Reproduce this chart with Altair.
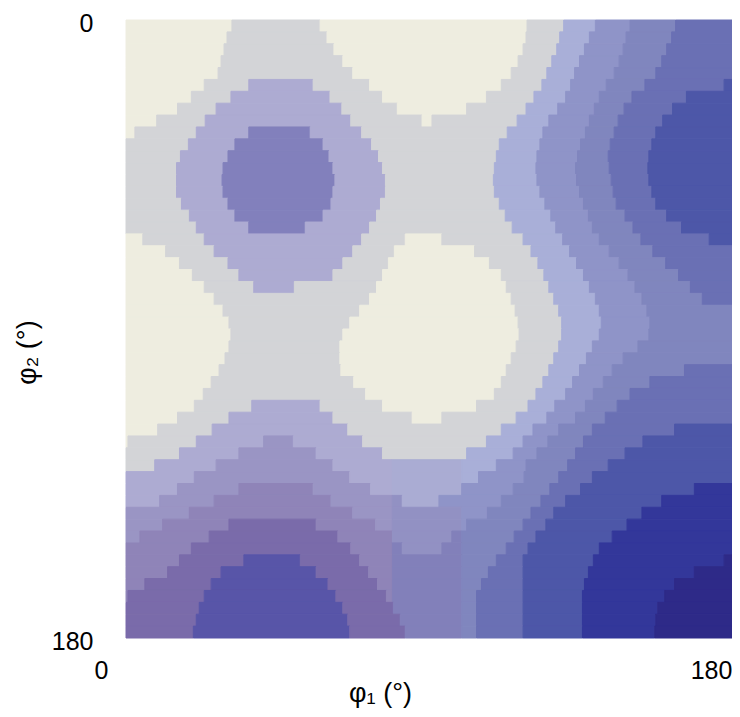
import altair as alt
import pandas as pd

# Scan of the map: each row lists shade + the column where that shade ends.
COL_START = 126
COLS = 612
PHI_MAX = 180

ROWS = [
"a233 b322 a531 b568 c600 d635 e681 f738",
"a228 b329 a530 b564 c594 d631 e677 f738",
"a225 b336 a527 b561 c589 d628 e672 f738",
"a222 b345 a522 b556 c584 d624 e667 f738",
"a219 b355 a515 b551 c579 d619 e661 f738",
"a205 b250 C315 b372 a505 b546 c575 d611 e650 f730 g738",
"a192 b232 C332 b385 a490 b538 c570 d604 e637 f692 g738",
"a178 b217 C344 b400 a470 b530 c562 d599 e629 f678 g738",
"a157 b206 C353 b425 a435 b521 c553 d594 e623 f668 g738",
"a135 b197 C250 h312 C364 b511 c547 d590 e619 f661 g738",
"b189 C236 h325 C374 b503 c544 d585 e615 f657 g738",
"b181 C229 h331 C381 b500 c541 d582 e613 f654 g738",
"b177 C224 h335 C385 b498 c540 d580 e614 f653 g738",
"b177 C223 h337 C388 b497 c541 d581 e616 f654 g738",
"b177 C224 h335 C388 b498 c544 d584 e618 f657 g738",
"b182 C229 h333 C383 b503 c549 d588 e621 f661 g738",
"b190 C236 h325 C379 b509 c555 d593 e630 f672 g738",
"b197 C250 h307 C372 b516 c560 d597 e638 f687 g738",
"a143 b205 C364 b408 a445 b527 c567 d604 e646 f715 g738",
"a166 b215 C355 b397 a478 b535 c574 d614 e658 f738",
"a180 b229 C345 b391 a493 b542 c581 d624 e671 f738",
"a193 b240 C335 b385 a505 b548 c588 d633 e684 f738",
"a205 b255 C296 b379 a510 b553 c594 d640 e696 f738",
"a215 b372 a515 b558 c600 d647 e708 f738",
"a224 b362 a519 b563 c604 d652 e738",
"a230 b352 a522 b566 c606 d655 e738",
"a232 b345 a523 b566 c604 d654 e738",
"a230 b342 a520 b563 c597 d643 e738",
"a226 b342 a515 b558 c591 d628 e738",
"a220 b343 a510 b553 c584 d617 e690 f738",
"a212 b356 a505 b547 c577 d608 e655 f738",
"a204 b368 a498 b540 c570 d598 e635 f738",
"a195 b253 C322 b385 a480 b532 c559 d590 e622 f738",
"a178 b230 C335 b415 a445 b520 c551 d580 e610 f738",
"a158 b213 C350 b505 c537 d563 e597 f680 g738",
"a128 b197 C265 D295 C365 b490 c527 d552 e588 f648 g738",
"b180 C240 D318 C385 b470 c517 d541 e580 f630 g738",
"b155 C217 D335 C395 m465 c500 d530 e572 f613 g738",
"C195 D352 C395 m465 c482 d528 e563 f597 g738",
"C178 D240 E315 D373 C395 m465 d517 e554 f585 g700 i738",
"C160 D215 E333 D395 n405 m442 d505 e545 f570 g667 i738",
"D190 E355 D395 n465 d491 e535 f558 g647 i738",
"D163 E230 F318 E378 D395 n465 d470 e527 f550 g632 i738",
"D140 E210 F340 E395 n455 o465 e518 f540 g617 i738",
"E192 F353 E395 o405 n445 o465 e510 f532 g604 i738",
"E180 F245 G302 F362 E395 o465 e500 f527 g598 i730 j738",
"E168 F222 G318 F371 E395 o465 e492 f527 g593 i700 j738",
"E145 F212 G330 F380 E395 o465 e485 f527 g589 i680 j738",
"E128 F205 G338 F389 E395 o465 e480 f527 g587 i670 j738",
"F200 G345 F396 o465 e480 f527 g587 i663 j738",
"F197 G350 F403 o465 e480 f527 g587 i661 j738",
"F194 G352 F408 o465 e480 f527 g587 i660 j738",
]

SHADES = ["a", "b", "c", "d", "e", "f", "g", "h", "i", "j", "C", "D", "E", "F", "G", "m", "n", "o"]
COLOURS = ["#EEEDE0", "#D3D4D7", "#A9AFD8", "#8F94C8", "#8086BE", "#6A70B4", "#4D57A8",
           "#8280BC", "#33379A", "#2E2A88", "#ADABD2", "#9A95C4", "#8F84B8", "#7A6BAA", "#5855A8",
           "#AAACD3", "#9291C3", "#8280BA"]

records = []
for i, row in enumerate(ROWS):
    start = COL_START
    for run in row.split():
        end = int(run[1:])
        records.append({
            "p1a": (start - COL_START) / COLS * PHI_MAX,
            "p1b": (end - COL_START) / COLS * PHI_MAX,
            "p2a": i / len(ROWS) * PHI_MAX,
            "p2b": (i + 1) / len(ROWS) * PHI_MAX,
            "shade": run[0],
        })
        start = end
df = pd.DataFrame(records)

scale = alt.Scale(domain=SHADES, range=COLOURS)
FONT = "Liberation Sans"

chart = alt.Chart(df).mark_rect(strokeWidth=1).encode(
    x=alt.X("p1a:Q", scale=alt.Scale(domain=[0, 180], nice=False),
            axis=alt.Axis(values=[0, 180], title="φ₁ (°)", grid=False, domain=False, ticks=False,
                          labelFont=FONT, labelFontSize=25, labelColor="#000",
                          labelOffset={"condition": {"test": "datum.value == 0", "value": -25}, "value": -21},
                          labelPadding=20, labelFlush=False, labelOverlap=False,
                          titleFont=FONT, titleFontSize=27, titleFontWeight="normal", titleColor="#000",
                          titleX=254, titleY=42, titleAnchor="middle")),
    x2="p1b:Q",
    y=alt.Y("p2a:Q", scale=alt.Scale(domain=[0, 180], reverse=True, nice=False),
            axis=alt.Axis(values=[0, 180], title="φ₂ (°)", grid=False, domain=False, ticks=False,
                          labelFont=FONT, labelFontSize=25, labelColor="#000", labelOffset=3,
                          labelPadding=33, labelFlush=False, labelOverlap=False,
                          titleFont=FONT, titleFontSize=27, titleFontWeight="normal", titleColor="#000",
                          titleX=-85, titleY=332, titleAnchor="middle")),
    y2="p2b:Q",
    color=alt.Color("shade:N", scale=scale, legend=None),
    stroke=alt.Stroke("shade:N", scale=scale, legend=None),
).properties(
    width=606, height=618, autosize="none",
    padding={"left": 118, "top": 12, "right": 0, "bottom": 71},
).configure_view(stroke=None)

chart.save("out.html", embed_options={"renderer": "svg", "actions": False})
